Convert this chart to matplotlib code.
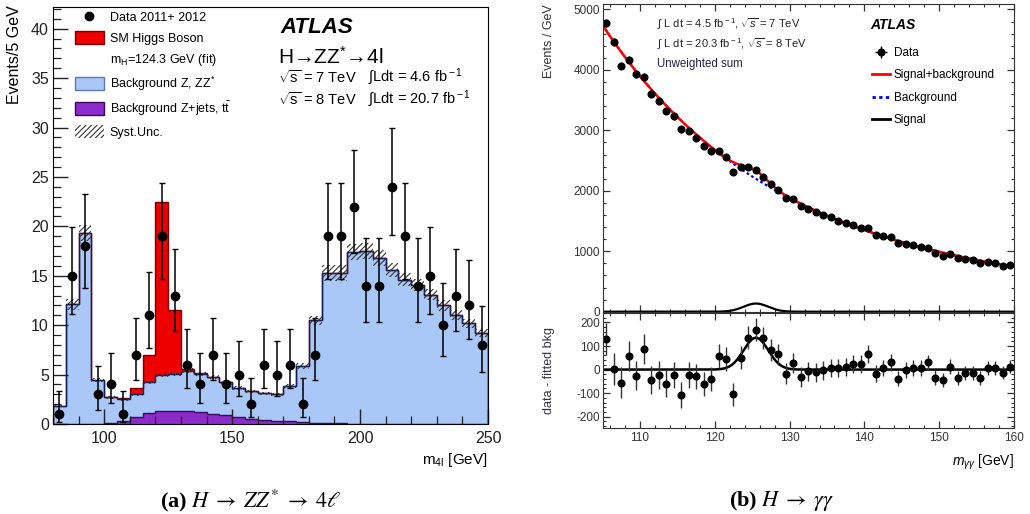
import math
import numpy as np
import matplotlib
matplotlib.use("Agg")
import matplotlib.pyplot as plt
from matplotlib.patches import Patch
from matplotlib.lines import Line2D
from matplotlib.ticker import MultipleLocator

plt.rcParams['font.family'] = ['Liberation Sans', 'DejaVu Sans']
plt.rcParams['mathtext.fontset'] = 'custom'
plt.rcParams['mathtext.rm'] = 'Liberation Sans'
plt.rcParams['mathtext.it'] = 'Liberation Sans:italic'
plt.rcParams['mathtext.bf'] = 'Liberation Sans:bold'
plt.rcParams['axes.unicode_minus'] = False
plt.rcParams['hatch.linewidth'] = 0.8

# ---- H -> ZZ* -> 4l, 5 GeV bins from 80 to 250 GeV
zz_edges = np.arange(80, 255, 5)
zz_data = [1, 15, 18, 3, 4, 1, 7, 11, 19, 13, 6, 4, 7, 4, 5, 2, 6, 5, 6, 2,
           7, 19, 19, 22, 14, 14, 24, 19, 14, 15, 10, 13, 12, 8]
# total background (ZZ* + Z+jets/ttbar)
zz_bkg_total = [1.8, 12.1, 19.3, 4.5, 2.7, 2.5, 3.0, 4.2, 5.0, 5.1, 5.4, 5.1,
                4.8, 4.2, 3.6, 3.3, 3.1, 3.0, 3.8, 5.9, 10.5, 15.3, 15.3, 17.4,
                17.5, 16.8, 15.6, 14.6, 14.1, 13.1, 12.0, 11.0, 10.2, 9.2]
zz_zjets = [0, 0, 0, 0, 0.1, 0.34, 0.68, 1.1, 1.35, 1.35, 1.28, 1.2, 1.05,
            0.88, 0.7, 0.54, 0.44, 0.34, 0.27, 0.2, 0.14, 0.14, 0.1, 0,
            0, 0, 0, 0, 0, 0, 0, 0, 0, 0]
zz_higgs = [0, 0, 0, 0, 0, 0.1, 0.6, 2.8, 17.5, 6.45, 0.15, 0.05,
            0, 0, 0, 0, 0, 0, 0, 0, 0, 0, 0, 0, 0, 0, 0, 0, 0, 0, 0, 0, 0, 0]
zz_syst = [0.1, 0.6, 0.8, 0.2, 0.15, 0.15, 0.15, 0.2, 0.2, 0.2, 0.25, 0.2,
           0.2, 0.2, 0.2, 0.15, 0.15, 0.15, 0.2, 0.3, 0.45, 0.8, 0.8, 0.8,
           0.8, 0.8, 0.7, 0.65, 0.6, 0.6, 0.55, 0.5, 0.45, 0.4]

# ---- H -> gamma gamma, 1 GeV bins from 105 to 160 GeV
gg_mass = np.arange(105.5, 160, 1.0)
gg_events = [4777, 4463, 4072, 4171, 3928, 3890, 3609, 3493, 3322, 3234,
             3019, 2992, 2876, 2738, 2661, 2656, 2556, 2309, 2386, 2391,
             2347, 2231, 2105, 2011, 1884, 1857, 1741, 1702, 1642, 1598,
             1559, 1504, 1471, 1427, 1377, 1383, 1262, 1245, 1229, 1129,
             1124, 1102, 1069, 1058, 964, 926, 953, 887, 876, 854,
             804, 821, 804, 755, 766]
gg_resid = [129, 3, -55, 57, -26, 88, -45, -23, -60, -23,
            -108, -23, -28, -61, -40, 57, 45, -105, 51, 136,
            170, 133, 82, 64, -17, 28, -31, -7, -11, -3,
            7, 7, 11, 23, 23, 65, -17, 7, 31, -38,
            -3, 7, 7, 31, -34, -43, 13, -34, -16, -14,
            -35, 7, 7, -14, 13]

# fit results: background is exp of a quadratic in (m - 105), signal a gaussian
bkg_pars = (8.464, -0.03975, 0.00011)
sig_mean, sig_width, sig_peak = 125.5, 1.65, 135.0

RED = '#ee0000'
LIGHTBLUE = '#a9c7f7'
PURPLE = '#8b2bc9'
NAVY = '#101a5c'


def poissonCdf(k, mu):
    return sum(math.exp(-mu + i * math.log(mu) - math.lgamma(i + 1)) for i in range(k + 1))


def bisect(f, lo, hi):
    for _ in range(60):
        mid = 0.5 * (lo + hi)
        if f(mid) > 0:
            lo = mid
        else:
            hi = mid
    return 0.5 * (lo + hi)


# 68% Garwood interval for an observed count
def garwood(n, cl=0.6827):
    alpha = (1 - cl) / 2
    up = bisect(lambda mu: poissonCdf(n, mu) - alpha, max(n, 1e-9), n + 10 + 5 * math.sqrt(n + 1))
    if n == 0:
        return 0.0, up
    lo = bisect(lambda mu: poissonCdf(n - 1, mu) - (1 - alpha), 1e-9, n)
    return lo, up


fig = plt.figure(figsize=(10.3, 5.14), dpi=100)

# ------------------------------------------------------------------ (a) 4l
ax = fig.add_axes([0.0515, 0.1751, 0.4223, 0.8113])
zjets = np.array(zz_zjets)
bkg = np.array(zz_bkg_total)
higgs = np.array(zz_higgs)
syst = np.array(zz_syst)

ax.stairs(zjets, zz_edges, baseline=0, fill=True, color=PURPLE, lw=0)
ax.stairs(bkg, zz_edges, baseline=zjets, fill=True, color=LIGHTBLUE, lw=0)
ax.stairs(bkg + higgs, zz_edges, baseline=bkg, fill=True, color=RED, lw=0)
ax.stairs(bkg + higgs, zz_edges, color='#7a0000', lw=1.0)
ax.stairs(bkg, zz_edges, color=NAVY, lw=1.0)
ax.stairs(zjets, zz_edges, color='#3a0a5a', lw=1.0)
ax.stairs(bkg + syst, zz_edges, baseline=bkg - syst, fill=True,
          facecolor='none', edgecolor='#333333', hatch='//////', lw=0)

centers = 0.5 * (zz_edges[:-1] + zz_edges[1:])
intervals = [garwood(n) for n in zz_data]
counts = np.array(zz_data, dtype=float)
errLo = counts - np.array([a for a, b in intervals])
errHi = np.array([b for a, b in intervals]) - counts
ax.errorbar(centers, counts, yerr=[errLo, errHi], fmt='o', color='black',
            ms=6, elinewidth=1.1, capsize=2, capthick=1)

ax.set_xlim(80, 250)
ax.set_ylim(0, 42.2)
ax.xaxis.set_major_locator(MultipleLocator(50))
ax.xaxis.set_minor_locator(MultipleLocator(10))
ax.yaxis.set_major_locator(MultipleLocator(5))
ax.yaxis.set_minor_locator(MultipleLocator(1))
ax.tick_params(which='both', direction='in', labelsize=11.5, colors='#222222')
ax.tick_params(which='major', length=11, width=1)
ax.tick_params(which='minor', length=5.5, width=0.9)
ax.tick_params(axis='y', pad=3)
ax.tick_params(axis='x', pad=5)
ax.set_ylabel('Events/5 GeV', fontsize=11.5, loc='top')
ax.yaxis.set_label_coords(-0.071, 1.005)
ax.text(1.0, -0.086, r'm$_{\rm 4l}$ [GeV]', transform=ax.transAxes,
        ha='right', va='center', fontsize=11)

legHandles = [
    Line2D([], [], marker='o', color='black', ls='none', ms=6),
    Patch(facecolor=RED, edgecolor='#7a0000'),
    Patch(visible=False),
    Patch(facecolor=LIGHTBLUE, edgecolor='#5a7ab0'),
    Patch(facecolor=PURPLE, edgecolor='#3a0a5a'),
    Patch(facecolor='none', edgecolor='#333333', hatch='//////', lw=0),
]
legLabels = ['Data 2011+ 2012', 'SM Higgs Boson', r'm$_{\rm H}$=124.3 GeV (fit)',
             r'Background Z, ZZ$^{*}$', r'Background Z+jets, t$\bar{\rm t}$', 'Syst.Unc.']
ax.legend(legHandles, legLabels, loc='upper left', bbox_to_anchor=(0.05, 0.992),
          frameon=False, fontsize=9, borderpad=0, borderaxespad=0,
          handlelength=2.3, handleheight=1.25, handletextpad=0.5, labelspacing=0.55)

ax.text(0.522, 0.950, 'ATLAS', transform=ax.transAxes, fontsize=16,
        fontweight='bold', fontstyle='italic', va='center')
ax.text(0.518, 0.880, 'H\u2192ZZ$^{*}$\u21924l', transform=ax.transAxes,
        fontsize=15, va='center')
ax.text(0.518, 0.832, r'$\sqrt{\rm s}$ = 7 TeV', transform=ax.transAxes, fontsize=10.5, va='center')
ax.text(0.724, 0.832, r'$\int$Ldt = 4.6 fb$^{\rm -1}$', transform=ax.transAxes, fontsize=10.5, va='center')
ax.text(0.518, 0.779, r'$\sqrt{\rm s}$ = 8 TeV', transform=ax.transAxes, fontsize=10.5, va='center')
ax.text(0.724, 0.779, r'$\int$Ldt = 20.7 fb$^{\rm -1}$', transform=ax.transAxes, fontsize=10.5, va='center')

# ------------------------------------------------------------------ (b) gamma gamma
ax2 = fig.add_axes([0.585, 0.3936, 0.3995, 0.5986])
ax3 = fig.add_axes([0.585, 0.1673, 0.3995, 0.2237], sharex=ax2)

m = np.linspace(105, 160, 551)
t = m - 105
bkgCurve = np.exp(bkg_pars[0] + bkg_pars[1] * t + bkg_pars[2] * t ** 2)
sigCurve = sig_peak * np.exp(-0.5 * ((m - sig_mean) / sig_width) ** 2)

events = np.array(gg_events, dtype=float)
ax2.plot(m, sigCurve, color='black', lw=1.6)
ax2.plot(m, bkgCurve, color='#0000ff', lw=1.6, ls=(0, (1.2, 1.2)))
ax2.plot(m, bkgCurve + sigCurve, color='#ff0000', lw=1.8)
dataH = ax2.errorbar(gg_mass, events, xerr=0.3, yerr=np.sqrt(events), fmt='o',
                     color='black', ms=4.8, elinewidth=1)

ax2.set_xlim(105, 160)
ax2.set_ylim(0, 5090)
ax2.yaxis.set_major_locator(MultipleLocator(1000))
ax2.yaxis.set_minor_locator(MultipleLocator(200))
ax2.xaxis.set_major_locator(MultipleLocator(10))
ax2.xaxis.set_minor_locator(MultipleLocator(2))
ax2.tick_params(labelbottom=False)
ax2.set_ylabel('Events / GeV', fontsize=9, color='#333333', loc='top')
ax2.yaxis.set_label_coords(-0.115, 1.0)

ax2.text(0.1324, 0.935, r'$\int$ L dt = 4.5 fb$^{\rm -1}$, $\sqrt{s}$ = 7 TeV',
         transform=ax2.transAxes, fontsize=8, va='center', color='#222222')
ax2.text(0.1324, 0.870, r'$\int$ L dt = 20.3 fb$^{\rm -1}$, $\sqrt{s}$ = 8 TeV',
         transform=ax2.transAxes, fontsize=8, va='center', color='#222222')
ax2.text(0.1324, 0.805, 'Unweighted sum', transform=ax2.transAxes,
         fontsize=8.3, va='center', color='#222244')
ax2.text(0.650, 0.932, 'ATLAS', transform=ax2.transAxes, fontsize=10,
         fontweight='bold', fontstyle='italic', va='center')

ggHandles = [dataH,
             Line2D([], [], color='#ff0000', lw=2),
             Line2D([], [], color='#0000ff', lw=2, ls=(0, (1.2, 1.2))),
             Line2D([], [], color='black', lw=2)]
ax2.legend(ggHandles, ['Data', 'Signal+background', 'Background', 'Signal'],
           loc='upper left', bbox_to_anchor=(0.655, 0.860), frameon=False,
           fontsize=8.5, borderpad=0, borderaxespad=0, handlelength=1.5,
           handletextpad=0.35, labelspacing=0.88)

resid = np.array(gg_resid, dtype=float)
ax3.plot(m, sigCurve, color='black', lw=1.8)
ax3.errorbar(gg_mass, resid, yerr=np.sqrt(events), fmt='o', color='black',
             ecolor='#333333', ms=4.8, elinewidth=1)
ax3.set_ylim(-248, 240)
ax3.yaxis.set_major_locator(MultipleLocator(100))
ax3.yaxis.set_minor_locator(MultipleLocator(20))
ax3.set_ylabel('data - fitted bkg', fontsize=9, color='#333344')
ax3.yaxis.set_label_coords(-0.115, 0.5)
ax3.text(1.0, -0.296, r'$m_{\gamma\gamma}$ [GeV]', transform=ax3.transAxes,
         ha='right', va='center', fontsize=10)

for a in (ax2, ax3):
    a.tick_params(which='both', direction='in', top=True, right=True,
                  labelsize=8.5, labelcolor='#333333', color='#333333')
    a.tick_params(which='major', length=5, width=0.9)
    a.tick_params(which='minor', length=2.5, width=0.8)
    a.tick_params(axis='y', pad=2)
    a.tick_params(axis='x', pad=3)
    for s in a.spines.values():
        s.set_color('#333333')

# ------------------------------------------------------------------ captions
fig.text(0.243, 0.026, r'(a) $H\;\rightarrow\;ZZ^{*}\;\rightarrow\;4\ell$',
         family='Liberation Serif', fontweight='bold', math_fontfamily='stix',
         fontsize=16, ha='center', va='center')
fig.text(0.759, 0.026, r'(b) $H\;\rightarrow\;\gamma\gamma$',
         family='Liberation Serif', fontweight='bold', math_fontfamily='stix',
         fontsize=16, ha='center', va='center')

fig.savefig('out.png', dpi=100)
